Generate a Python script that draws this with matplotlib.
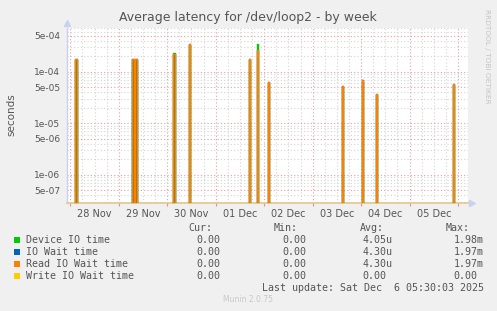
import numpy as np
import matplotlib.pyplot as plt
from matplotlib.patches import Rectangle

# time axis in days since 28 Nov 00:00 (weekly munin graph, 30 min samples)
spike_days = [0.124, 1.301, 1.363, 2.147, 2.457, 3.696, 3.861, 4.089, 5.616, 6.029, 6.318, 7.909]
device_io = [1.70e-4, 1.70e-4, 1.70e-4, 2.30e-4, 3.40e-4, 1.70e-4, 3.45e-4, 6.0e-5, 5.0e-5, 6.5e-5, 3.5e-5, 5.5e-5]
io_wait = [1.76e-4, 1.76e-4, 1.76e-4, 2.20e-4, 3.45e-4, 1.76e-4, 2.64e-4, 6.3e-5, 5.3e-5, 6.9e-5, 3.7e-5, 5.7e-5]
read_wait = [1.76e-4, 1.76e-4, 1.76e-4, 2.20e-4, 3.45e-4, 1.76e-4, 2.64e-4, 6.3e-5, 5.3e-5, 6.9e-5, 3.7e-5, 5.7e-5]
write_wait = [0.0] * len(spike_days)

day_labels = ['28 Nov', '29 Nov', '30 Nov', '01 Dec', '02 Dec', '03 Dec', '04 Dec', '05 Dec']
ytick_vals = [5e-7, 1e-6, 5e-6, 1e-5, 5e-5, 1e-4, 5e-4]
ytick_labels = ['5e-07', '1e-06', '5e-06', '1e-05', '5e-05', '1e-04', '5e-04']

legend_names = ['Device IO time', 'IO Wait time', 'Read IO Wait time', 'Write IO Wait time']
legend_colors = ['#00cc00', '#0066b3', '#ff8000', '#ffcc00']
cur_vals = ['0.00', '0.00', '0.00', '0.00']
min_vals = ['0.00', '0.00', '0.00', '0.00']
avg_vals = ['4.05u', '4.30u', '4.30u', '0.00']
max_vals = ['1.98m', '1.97m', '1.97m', '0.00']

W, H = 497, 311
x_start, x_end = -0.068, 8.206
sample = 0.036  # width of one spike


def spikes(times, vals):
    t = [x_start]
    v = [0.0]
    for c, val in zip(times, vals):
        t += [c - sample / 2, c - sample / 2, c + sample / 2, c + sample / 2]
        v += [0.0, val, val, 0.0]
    t.append(x_end)
    v.append(0.0)
    return np.array(t), np.array(v)


def fp(x, y):
    return x / W, 1 - y / H


fig = plt.figure(figsize=(W / 100, H / 100), dpi=100, facecolor='#f0f0f0')
ax = fig.add_axes([67 / W, 1 - 203 / H, (468 - 67) / W, (203 - 28) / H])
ax.set_facecolor('white')
ax.set_yscale('log', nonpositive='clip')

# olive fill under the spikes
t, v = spikes(spike_days, read_wait)
ax.fill_between(t, np.where(v > 0, v, 1e-9), 1e-9, color='#a8803a', lw=0, zorder=2)

for vals, col in zip([device_io, io_wait, read_wait, write_wait], legend_colors):
    t, v = spikes(spike_days, vals)
    ax.plot(t, v, color=col, lw=1.0, zorder=3)

# y grid
minor_y = [m * 10.0 ** e for e in range(-7, -3) for m in [2, 3, 4, 6, 7, 8, 9]]
ax.set_yticks(ytick_vals, ytick_labels)
ax.set_yticks(minor_y, minor=True)
ax.yaxis.set_minor_formatter(plt.NullFormatter())
ax.tick_params(axis='y', which='both', length=0, labelsize=6.5, labelcolor='#555555', pad=5)

# x grid: days (red) and 6 hour steps (gray)
ax.set_xticks(range(9), [''] * 9)
ax.set_xticks(np.arange(0, 8.2, 0.25), minor=True)
ax.tick_params(axis='x', which='major', length=2, color='#e09090', direction='out')
ax.tick_params(axis='x', which='minor', length=0)
for i, lab in enumerate(day_labels):
    ax.text(i + 0.5, -0.035, lab, transform=ax.get_xaxis_transform(), ha='center', va='top',
            fontsize=7, color='#555555')

ax.set_xlim(x_start, x_end)
ax.set_ylim(2.82e-7, 7.14e-4)

ax.grid(True, which='minor', color='#d4d4d4', lw=0.8, linestyle=(0, (1, 2)), zorder=1)
ax.grid(True, which='major', color='#e8a0a0', lw=0.8, linestyle=(0, (1, 2)), zorder=1)
ax.set_axisbelow(True)

for s in ['top', 'right']:
    ax.spines[s].set_visible(False)
ax.spines['left'].set_color('#ccd0f0')
ax.spines['bottom'].set_color('#e2c98c')
ax.spines['left'].set_linewidth(1)
ax.spines['bottom'].set_linewidth(1.2)

# axis arrows
ax.plot([0], [1.03], marker='^', ms=5, color='#ccd0f0', transform=ax.transAxes, clip_on=False)
ax.plot([1.01], [0], marker='>', ms=5, color='#ccd0f0', transform=ax.transAxes, clip_on=False)

fig.text(*fp(248, 17), 'Average latency for /dev/loop2 - by week', ha='center', va='center',
         fontsize=9, color='#555555')
fig.text(*fp(11, 115), 'seconds', rotation=90, ha='center', va='center', fontsize=7.5, color='#555555')
fig.text(*fp(487, 9), 'RRDTOOL / TOBI OETIKER', rotation=270, ha='center', va='top',
         fontsize=5.3, color='#c4c4c4')

mono = dict(family='DejaVu Sans Mono', fontsize=7.2, color='#555555', va='center')
fig.text(*fp(212, 228), 'Cur:', ha='right', **mono)
fig.text(*fp(298, 228), 'Min:', ha='right', **mono)
fig.text(*fp(384, 228), 'Avg:', ha='right', **mono)
fig.text(*fp(470, 228), 'Max:', ha='right', **mono)
for i, name in enumerate(legend_names):
    y = 240 + i * 12
    fig.add_artist(Rectangle(fp(14, y + 3), 6 / W, 6 / H, transform=fig.transFigure,
                             color=legend_colors[i], lw=0))
    fig.text(*fp(26, y), name, ha='left', **mono)
    fig.text(*fp(196, y), cur_vals[i], ha='left', **mono)
    fig.text(*fp(282, y), min_vals[i], ha='left', **mono)
    fig.text(*fp(362.5, y), avg_vals[i], ha='left', **mono)
    fig.text(*fp(453.5, y), max_vals[i], ha='left', **mono)
fig.text(*fp(262, 288), 'Last update: Sat Dec  6 05:30:03 2025', ha='left', **mono)
fig.text(*fp(248, 300), 'Munin 2.0.75', ha='center', va='center', fontsize=5.5, color='#c8c8c8')

fig.savefig('out.png', dpi=100, facecolor=fig.get_facecolor())
